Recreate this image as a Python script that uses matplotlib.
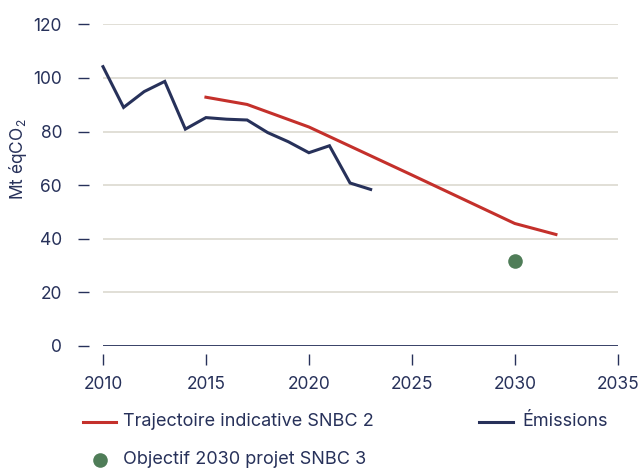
import matplotlib
matplotlib.use("Agg")
import matplotlib.pyplot as plt
from matplotlib.lines import Line2D

plt.rcParams['font.family'] = ['Inter', 'DejaVu Sans']
plt.rcParams['mathtext.fontset'] = 'custom'
plt.rcParams['mathtext.rm'] = 'Inter'
plt.rcParams['mathtext.it'] = 'Inter'

NAVY = '#27315a'
RED = '#c4302b'
GREEN = '#4f7d58'
GRID = '#d9d6cc'

# émissions observées
annees_em = [2010, 2011, 2012, 2013, 2014, 2015, 2016, 2017, 2018, 2019, 2020, 2021, 2022, 2023]
emissions = [104.2, 89.0, 94.9, 98.7, 80.9, 85.2, 84.6, 84.3, 79.6, 76.2, 72.1, 74.7, 60.8, 58.4]

# trajectoire SNBC 2
annees_snbc2 = [2015, 2017, 2020, 2025, 2030, 2032]
snbc2 = [92.8, 90.1, 81.7, 63.8, 45.7, 41.6]

# objectif SNBC 3
annee_obj = [2030]
objectif = [31.8]

W, H = 641, 468
fig = plt.figure(figsize=(W / 100, H / 100), dpi=100)
ax = fig.add_axes([103 / W, 1 - 346 / H, (617.7 - 103) / W, (346 - 24.3) / H])

ax.set_xlim(2010, 2035)
ax.set_ylim(0, 120)

ax.set_yticks(range(0, 121, 20))
ax.set_xticks(range(2010, 2036, 5))
for y in range(20, 121, 20):
    ax.axhline(y, color=GRID, lw=1.1, zorder=0)
ax.axhline(0, color=NAVY, lw=1.3, zorder=1)

ax.plot(annees_snbc2, snbc2, color=RED, lw=2.2, solid_joinstyle='miter', zorder=3, clip_on=False)
ax.plot(annees_em, emissions, color=NAVY, lw=2.2, solid_joinstyle='miter', zorder=3, clip_on=False)
ax.plot(annee_obj, objectif, 'o', color=GREEN, ms=10.5, mec='none', zorder=4)

for s in ['top', 'right', 'left', 'bottom']:
    ax.spines[s].set_visible(False)
ax.spines['left'].set_position(('outward', 10))
ax.spines['bottom'].set_position(('outward', 5.8))
ax.tick_params(axis='y', length=8, width=1, color=NAVY, pad=11.5,
               labelsize=12.5, labelcolor=NAVY, direction='out')
ax.tick_params(axis='x', length=8, width=1, color=NAVY, pad=7.5,
               labelsize=12.5, labelcolor=NAVY, direction='out')

fig.text(18 / W, 1 - 159 / H, 'Mt éqCO$_{2}$', rotation=90, ha='center', va='center',
         fontsize=12.5, color=NAVY)

# légende
def px(x, y):
    return x / W, 1 - y / H

fig.add_artist(Line2D([83 / W, 116 / W], [1 - 421.7 / H] * 2, color=RED, lw=2.2))
fig.text(*px(123, 421.7), 'Trajectoire indicative SNBC 2', ha='left', va='center',
         fontsize=13, color=NAVY)
fig.add_artist(Line2D([479 / W, 513 / W], [1 - 421.7 / H] * 2, color=NAVY, lw=2.2))
fig.text(*px(522, 421.7), 'Émissions', ha='left', va='center', fontsize=13, color=NAVY)
fig.add_artist(Line2D([100 / W], [1 - 460 / H], marker='o', color=GREEN, ms=10.5, mec='none'))
fig.text(*px(123, 460), 'Objectif 2030 projet SNBC 3', ha='left', va='center',
         fontsize=13, color=NAVY)

fig.savefig('out.png', dpi=100)
